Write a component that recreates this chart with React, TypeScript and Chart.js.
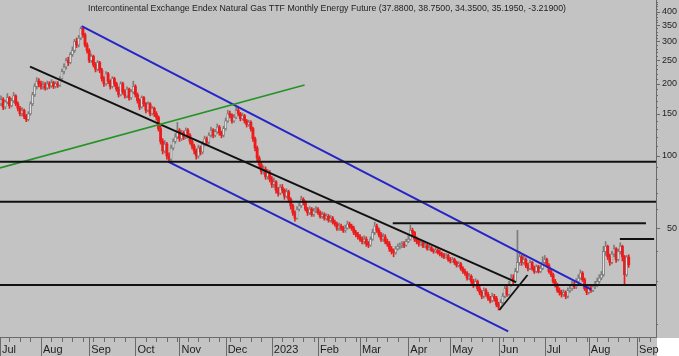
import React, { useEffect, useRef } from 'react';
import { Chart, registerables } from 'chart.js';

Chart.register(...registerables);

const TITLE = 'Intercontinental Exchange Endex Natural Gas TTF Monthly Energy Future (37.8800, 38.7500, 34.3500, 35.1950, -3.21900)';

// x = weekday index, 0 = Mon 4 Jul 2022
const opens = [170,165,172,160,168,175,162,170,178,165,158,150,155,146,142,150,165,180,195,205,
200,195,198,192,200,196,202,195,200,197,210,225,235,250,245,265,275,300,290,310,
340,320,290,275,250,260,240,230,245,228,210,200,220,205,195,210,200,190,180,200,
185,178,190,175,185,195,180,170,160,175,165,155,165,150,158,150,145,130,115,105,
112,100,97,108,115,120,128,118,125,120,128,122,115,110,105,100,108,104,112,118,
114,122,128,122,126,132,125,122,130,140,150,148,140,145,155,150,143,147,140,135,
138,130,118,108,98,92,86,88,82,85,80,76,78,72,70,74,72,68,71,66,
62,58,55,60,62,66,64,60,58,60,57,59,60,58,56,57,55,56,54,55,
53,52,50,51,50,49,50,52,51,50,48,47,46,45,44,45,43,42.5,45,48,
51,49,47,45,46,44,43,41,40,39.5,41,42,42.5,43,42.5,44,45,49,48,45,
44,43,43.5,42,42.5,41,41.5,40.5,40,40.5,39.5,39,38.5,38,38.5,37,36.5,37,36,35,
35.5,34,33,32.5,31,31.5,30,29,30,28,27,26,27.5,26.5,25.5,25,26,25.5,24,23.5,
24.5,26,28,26.5,29,31,30,33,36,38,36,37,35,34,36,34,33,34.5,33,34,
36,37,35,33,32,30,29,27.5,27,26.5,27,26,27.5,28,29,28.5,30,31,32.5,30.5,
28,27,28,27.5,28.5,29,30,31,32,40,42,38,36,39,41,37,40,42,38,32,
37.88];

const highs = [176,178,175,171,182,177,174,184,180,168,161,159,157,149,153,168,184,200,212,210,
205,204,202,205,204,208,205,204,204,214,230,242,256,258,270,285,306,310,318,345,
342,325,296,280,266,263,245,250,248,232,214,225,223,208,214,213,203,194,204,203,
189,194,192,189,205,198,183,173,178,177,167,168,167,161,160,153,147,133,118,116,
114,103,111,118,124,138,130,128,127,131,130,124,117,112,107,111,110,115,121,120,
125,132,130,129,136,134,127,133,144,155,154,150,149,160,158,152,151,149,142,141,
140,132,120,110,100,94,91,90,88,87,82,81,79,74,76,76,73,73,72,67,
63,59,61.5,64,68,67,65,61,61.5,61,60.5,61.5,61,59,58.5,58,57.5,57,56.5,56,
54,53,52.5,52,51,51.5,53.5,53,52,51,49,48,47,46,46.5,46,44,46,49.5,53,
52,50,48,47.5,47,45,44,42,41,42,43,43.5,44,44,45,46.5,51.5,50,48.5,46,
45,44.5,44,43.5,43,42.5,42,41,41.5,41,40.5,39.8,39.3,39.2,39,37.8,37.8,37.5,36.5,36.3,
36,34.6,33.8,33,32.4,32,30.6,30.8,30.4,28.6,27.5,28.2,28,27,26,26.8,26.5,26,24.6,25.2,
26.8,29,28.6,30,32,32,34,49,40,38.6,38.5,37.6,35.8,36.8,36.4,34.8,35.2,35,35,38,
38.5,37.5,35.6,33.6,32.5,30.6,29.5,28.2,27.6,27.7,27.4,28.2,29,30,29.8,30.8,32,33.5,33,31,
28.6,28.7,28.6,29.2,30,31,32,33,42,44,42.5,39,40,42.5,41.5,41,43.5,42.5,38.5,38.5,
38.75];

const lows = [160,162,156,157,165,158,160,167,162,154,147,147,143,139,140,148,162,177,190,194,
190,190,188,189,191,193,191,192,193,195,207,220,230,238,242,260,270,283,285,305,
312,285,268,245,245,235,224,226,222,205,195,197,200,190,192,195,186,176,178,181,
174,175,171,172,182,176,166,156,158,161,151,153,147,148,146,141,127,112,102,103,
97,94,95,106,113,118,115,116,117,118,119,112,107,102,97,98,101,102,110,111,
112,120,119,120,124,122,119,120,128,138,144,137,138,143,147,140,141,137,132,133,
127,115,105,95,89,84,84,80,80,78,74,74,70,68,69,70,66,67,64,60,
56.5,53.5,54.5,59,61,62.5,59,56.5,57,56,56,58,57,55,55,54,54,53,53,52,
51,49,49,49,48,48,49.5,50,49,47,46,45,44,43,43,42,41.5,42,44.5,47,
48,46,44,44,43,42,40,39,38,39,40.5,41,41.5,41.5,42,43.5,44.5,46.5,44,43,
42,42.5,41.5,41.5,40.5,40.5,40,39.3,39.5,39,38.3,37.8,37.3,37.5,36.4,35.8,36,35.3,34.4,34.5,
33.4,32.4,31.8,30.4,30.5,29.4,28.3,28.6,27.4,26.4,25.4,25.6,26,25,24.4,24.6,24.8,23.5,22.8,23.2,
24.2,25.6,26,26.2,28.6,29.2,29.6,32.6,35,35,35.4,34.2,33.2,33.6,33.4,32.4,32.6,32.5,32.6,33.6,
35.5,34.4,32.5,31.4,29.5,28.4,27,26.3,25.8,26,25.4,25.6,27,27.5,28,28,29.5,30.6,30,27.5,
26.4,26.6,27,27.2,28,28.5,29.5,30.5,31.5,38.5,37,35,35.5,38,36,36.5,39,36.5,29,31.5,
34.35];

const closes = [165,172,160,168,175,162,170,178,165,158,150,155,146,142,150,165,180,195,205,200,
195,198,192,200,196,202,195,200,197,210,225,235,250,245,265,275,300,290,310,340,
320,290,275,250,260,240,230,245,228,210,200,220,205,195,210,200,190,180,200,185,
178,190,175,185,195,180,170,160,175,165,155,165,150,158,150,145,130,115,105,112,
100,97,108,115,120,128,118,125,120,128,122,115,110,105,100,108,104,112,118,114,
122,128,122,126,132,125,122,130,140,150,148,140,145,155,150,143,147,140,135,138,
130,118,108,98,92,86,88,82,85,80,76,78,72,70,74,72,68,71,66,62,
58,55,60,62,66,64,60,58,60,57,59,60,58,56,57,55,56,54,55,53,
52,50,51,50,49,50,52,51,50,48,47,46,45,44,45,43,42.5,45,48,51,
49,47,45,46,44,43,41,40,39.5,41,42,42.5,43,42.5,44,45,49,48,45,44,
43,43.5,42,42.5,41,41.5,40.5,40,40.5,39.5,39,38.5,38,38.5,37,36.5,37,36,35,35.5,
34,33,32.5,31,31.5,30,29,30,28,27,26,27.5,26.5,25.5,25,26,25.5,24,23.5,24.5,
26,28,26.5,29,31,30,33,36,38,36,37,35,34,36,34,33,34.5,33,34,36,
37,35,33,32,30,29,27.5,27,26.5,27,26,27.5,28,29,28.5,30,31,32.5,30.5,28,
27,28,27.5,28.5,29,30,31,32,40,42,38,36,39,41,37,40,42,38,32,37.9,
35.195];

const monthLabels = ['Jul', 'Aug', 'Sep', 'Oct', 'Nov', 'Dec', '2023', 'Feb', 'Mar', 'Apr', 'May', 'Jun', 'Jul', 'Aug', 'Sep'];
const monthIndex = [0.5, 20, 43, 65, 86, 108, 130, 152, 172, 195, 215, 238, 260, 281, 304];
const yTickValues = [50, 100, 150, 200, 250, 300, 350, 400];
const yMinorValues = [20, 30, 40, 60, 70, 80, 90, 110, 120, 130, 140, 160, 170, 180, 190, 210, 220, 230, 240, 260, 270, 280, 290, 310, 320, 330, 340, 360, 370, 380, 390, 410, 420, 430, 440];

// drawn studies: [dayIndex, price]
const upperChannel = [[39.4, 347.6], [282.0, 27.8]];
const lowerChannel = [[80.6, 94.7], [242.6, 18.57]];
const mainTrend = [[14.8, 235.5], [246.3, 29.8]];
const greenTrend = [[0.5, 89.1], [145.6, 197.6]];
const juneTrend = [[238.4, 22.8], [251.8, 31.9]];
const levelValues = [94.7, 64.5, 52.4, 45.1, 29.0];
const levelSpans = [[0.5, 313], [0.5, 313], [187.6, 308.2], [295.8, 312.1], [0.5, 313]];

const X_MIN = 0.5;
const X_MAX = 313;
const Y_MIN = 17.6;
const Y_MAX = 446.7;

const BG = '#c3c3c3';
const AXIS = '#6a6a6a';
const TEXT = '#1e1e1e';
const FONT = '"Liberation Sans", Arial, sans-serif';
const UP_FILL = '#e2e2e2';
const UP_LINE = '#7c7c7c';
const DOWN = '#ec1c1c';
const BLUE = '#2424c8';
const BLACK = '#111111';
const GREEN = '#259325';

const weekTickIndex = Array.from({ length: 63 }, (_, k) => k * 5);

const decorPlugin = {
  id: 'decor',
  beforeDraw(chart: any) {
    const { ctx, width, height, chartArea: a } = chart;
    ctx.save();
    ctx.fillStyle = BG;
    ctx.fillRect(0, 0, width, height);
    ctx.fillStyle = '#ffffff';
    ctx.fillRect(a.right + 1, a.bottom + 1, width - a.right - 1, height - a.bottom - 1);
    ctx.restore();
  },
  afterDraw(chart: any) {
    const { ctx, chartArea: a, scales, height } = chart;
    const xs = scales.x;
    const ys = scales.y;
    ctx.save();
    ctx.strokeStyle = AXIS;
    ctx.lineWidth = 1;
    ctx.beginPath();
    weekTickIndex.forEach((v) => {
      const px = Math.round(xs.getPixelForValue(v)) + 0.5;
      if (px < a.left + 1 || px > a.right) return;
      ctx.moveTo(px, a.bottom);
      ctx.lineTo(px, a.bottom + 5);
    });
    monthIndex.forEach((v) => {
      const px = Math.round(xs.getPixelForValue(v)) + 0.5;
      if (px < a.left || px > a.right) return;
      ctx.moveTo(px, a.bottom);
      ctx.lineTo(px, height);
    });
    yTickValues.forEach((v) => {
      const py = Math.round(ys.getPixelForValue(v)) + 0.5;
      ctx.moveTo(a.right, py);
      ctx.lineTo(a.right + 4, py);
    });
    yMinorValues.forEach((v) => {
      const py = Math.round(ys.getPixelForValue(v)) + 0.5;
      if (py < a.top || py > a.bottom) return;
      ctx.moveTo(a.right, py);
      ctx.lineTo(a.right + 2, py);
    });
    ctx.stroke();

    ctx.fillStyle = TEXT;
    ctx.font = '9px ' + FONT;
    ctx.textBaseline = 'alphabetic';
    ctx.textAlign = 'left';
    const w = ctx.measureText(TITLE).width;
    ctx.translate(88, 10.5);
    ctx.scale(478 / w, 1);
    ctx.fillText(TITLE, 0, 0);
    ctx.restore();
  },
};

function lineSet(points: number[][], color: string, width = 2) {
  return {
    type: 'line' as const,
    data: points.map((p) => ({ x: p[0], y: p[1] })),
    borderColor: color,
    borderWidth: width,
    pointRadius: 0,
    fill: false,
    tension: 0,
    order: 0,
  };
}

export default function App() {
  const ref = useRef<HTMLCanvasElement>(null);

  useEffect(() => {
    document.body.style.margin = '0';
    const isUp = closes.map((c, i) => c >= opens[i]);
    const wickData = highs.map((h, i) => ({ x: i, y: [lows[i], h] }));
    const bodyData = closes.map((c, i) => ({ x: i, y: [Math.min(opens[i], c), Math.max(opens[i], c)] }));

    const levelSets = levelValues.map((v, k) =>
      lineSet([[levelSpans[k][0], v], [levelSpans[k][1], v]], BLACK, 2)
    );

    const chart = new Chart(ref.current as HTMLCanvasElement, {
      type: 'bar',
      data: {
        datasets: [
          {
            type: 'bar',
            data: wickData as any,
            backgroundColor: isUp.map((u) => (u ? UP_LINE : DOWN)),
            borderWidth: 0,
            barThickness: 1,
            grouped: false,
            order: 2,
          } as any,
          {
            type: 'bar',
            data: bodyData as any,
            backgroundColor: isUp.map((u) => (u ? UP_FILL : DOWN)),
            borderColor: isUp.map((u) => (u ? UP_LINE : DOWN)),
            borderWidth: isUp.map((u) => (u ? 0.8 : 0)),
            borderSkipped: false,
            barThickness: 2.2,
            minBarLength: 1,
            grouped: false,
            order: 1,
          } as any,
          ...levelSets,
          lineSet(greenTrend, GREEN, 1.8),
          lineSet(upperChannel, BLUE, 2),
          lineSet(lowerChannel, BLUE, 2),
          lineSet(mainTrend, BLACK, 2),
          lineSet(juneTrend, BLACK, 1.8),
        ] as any,
      },
      options: {
        responsive: false,
        maintainAspectRatio: false,
        animation: false,
        devicePixelRatio: 1,
        events: [],
        layout: { padding: { left: 0, top: 0, right: 2, bottom: 0 } },
        plugins: {
          legend: { display: false },
          tooltip: { enabled: false },
          title: { display: false },
        },
        scales: {
          x: {
            type: 'linear',
            position: 'bottom',
            min: X_MIN,
            max: X_MAX,
            offset: false,
            bounds: 'data',
            grid: { display: false, drawTicks: false, offset: false },
            border: { display: true, color: AXIS },
            afterBuildTicks: (s: any) => {
              s.ticks = monthIndex.map((v) => ({ value: v }));
            },
            afterFit: (s: any) => {
              s.height = 19;
              s.paddingLeft = 0;
              s.paddingRight = 0;
            },
            ticks: {
              autoSkip: false,
              maxRotation: 0,
              minRotation: 0,
              align: 'start',
              labelOffset: 2,
              padding: 6,
              color: TEXT,
              font: { size: 11, family: FONT },
              callback: (_v: any, i: number) => monthLabels[i],
            },
          },
          y: {
            type: 'logarithmic',
            position: 'right',
            min: Y_MIN,
            max: Y_MAX,
            bounds: 'data',
            grid: { display: false, drawTicks: false },
            border: { display: true, color: AXIS },
            afterBuildTicks: (s: any) => {
              s.ticks = yTickValues.map((v) => ({ value: v }));
            },
            afterFit: (s: any) => {
              s.width = 21;
              s.paddingTop = 0;
              s.paddingBottom = 0;
            },
            ticks: {
              autoSkip: false,
              crossAlign: 'far',
              padding: 6,
              color: TEXT,
              font: { size: 9, family: FONT },
              callback: (v: any) => String(v),
            },
          },
        },
      } as any,
      plugins: [decorPlugin],
    });
    return () => chart.destroy();
  }, []);

  return (
    <canvas
      ref={ref}
      width={679}
      height={356}
      style={{ display: 'block', width: 679, height: 356 }}
    />
  );
}
